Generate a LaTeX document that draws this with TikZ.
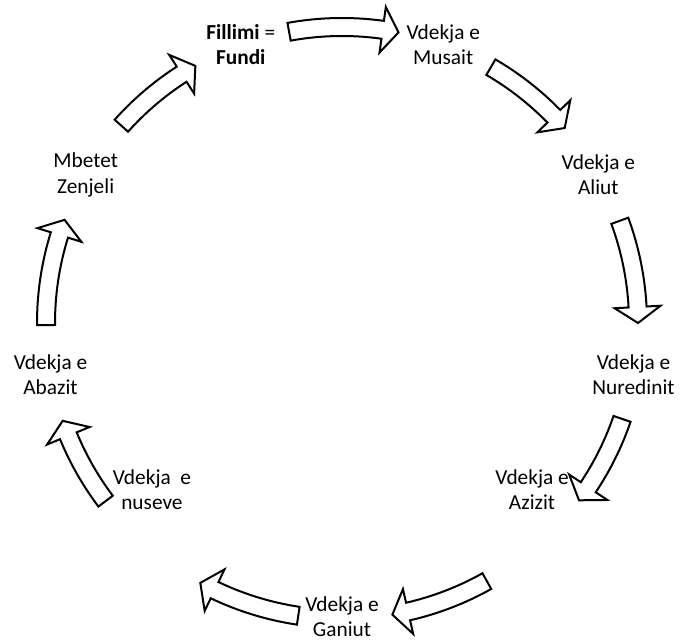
\documentclass[tikz,border=0pt]{standalone}
\usepackage{fontspec}
\setmainfont{Carlito}
\usetikzlibrary{calc}

\begin{document}
\begin{tikzpicture}
  [
  x=0.75pt, y=0.75pt,
  font=\fontsize{16}{19}\selectfont, line width=1.5pt,
  event/.style={align=center, inner sep=0pt},
  blockarrow/.style={draw=black, fill=white, line width=1.5pt, line join=miter}
  ]
\useasboundingbox (0,0) rectangle (682,642);
\coordinate (ctr) at (342,319);

\node[event] (fillimi) at ($(ctr)+(110:296)$) {\textbf{Fillimi} =\\\textbf{Fundi}};
\node[event] (musai)   at ($(ctr)+(70:296)$)  {Vdekja e\\Musait};
\node[event] (aliu)    at ($(ctr)+(30:296)$)  {Vdekja e\\Aliut};
\node[event] (nuredini) at ($(ctr)+(-10:296)$) {Vdekja e\\Nuredinit};
\node[event] (azizi)   at ($(ctr)+(-41.3:253)$) {Vdekja e\\Azizit};
\node[event] (ganiu)   at ($(ctr)+(-90:294)$) {Vdekja e\\Ganiut};
\node[event] (nuset)   at ($(ctr)+(-138.7:253)$) {Vdekja\ \ e\\nuseve};
\node[event] (abazi)   at ($(ctr)+(-170:296)$) {Vdekja e\\Abazit};
\node[event] (zenjeli) at ($(ctr)+(150:296)$) {Mbetet\\Zenjeli};

% curved block arrows between the stages, clockwise (tail angle/tip angle)
\foreach \ta/\tb in {100.3/79, 59.8/41.2, 20.2/0, -18.9/-36.8, -60.7/-80.2,
                     -98.5/-118.6, -143/-160.7, -179.6/-200.4, 138.2/119.7} {
  \pgfmathsetmacro{\tc}{\tb+3.1}
  \draw[blockarrow] ($(ctr)+(\ta:305)$) arc[start angle=\ta, end angle=\tc, radius=305]
    -- ($(ctr)+(\tc:319)$) -- ($(ctr)+(\tb:296)$) -- ($(ctr)+(\tc:273)$)
    -- ($(ctr)+(\tc:287)$) arc[start angle=\tc, end angle=\ta, radius=287] -- cycle;
}
\end{tikzpicture}
\end{document}
